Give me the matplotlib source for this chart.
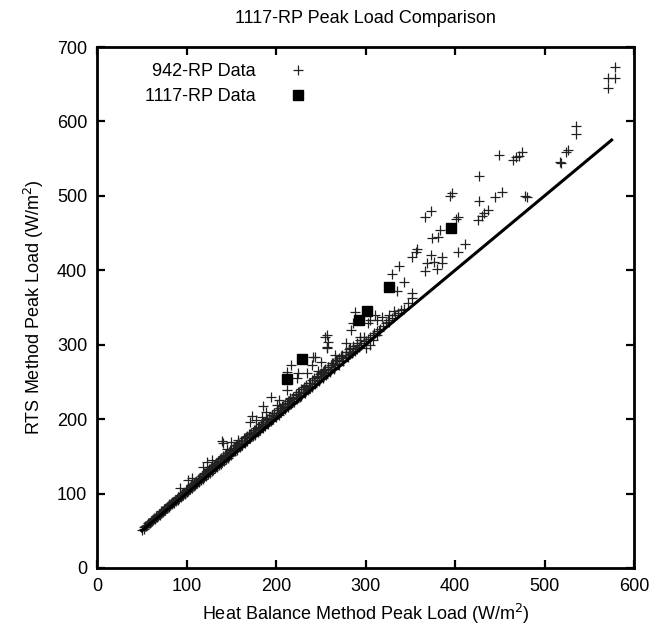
import matplotlib
matplotlib.use("Agg")
import matplotlib.pyplot as plt

plt.rcParams['font.family'] = ['Liberation Sans', 'DejaVu Sans']

# 942-RP data: sparse outliers
rp942_x_sparse = [578.3, 570.5, 579.1, 571.0, 534.7, 534.7, 525.8, 524.3, 518.0, 516.9,
                  474.8, 471.0, 468.4, 464.8, 448.7, 452.5, 478.5, 480.4, 445.0, 427.1,
                  396.6, 393.9, 427.1, 436.4, 432.7, 430.1, 425.2, 373.1, 366.7, 403.3,
                  401.4, 382.7, 380.5, 374.2, 411.4, 402.8, 358.1, 352.5, 373.1, 385.4,
                  376.8, 368.6, 385.4, 379.8, 366.7, 336.9, 329.5, 356.6, 343.2, 335.1,
                  351.8, 351.8, 348.0, 343.2, 332.0, 325.7, 318.3, 310.8, 324.6, 312.7,
                  305.2, 288.4, 286.5, 303.3, 283.6, 293.3, 315.6, 312.7, 308.2, 305.2,
                  300.7, 257.5, 254.9, 258.6, 256.8, 278.0, 282.9, 266.1, 241.8, 256.8,
                  243.7, 250.1, 216.9, 212.8, 225.1, 234.4, 223.3, 247.4, 240.0, 194.2,
                  212.1, 203.8, 185.9, 200.9, 215.8, 227.0, 238.1, 188.9, 173.0, 171.1,
                  177.8, 184.1, 139.4, 141.2, 149.5, 145.7, 158.0, 128.2, 122.6, 118.8,
                  105.9, 102.0, 92.8]
rp942_y_sparse = [673.5, 658.8, 658.8, 644.5, 594.3, 583.1, 561.6, 559.3, 543.8, 546.0,
                  559.3, 553.6, 551.8, 548.2, 554.9, 504.8, 500.2, 498.9, 498.1, 526.7,
                  504.3, 499.8, 493.1, 481.0, 476.6, 473.4, 467.6, 480.1, 471.2, 472.0,
                  468.5, 454.1, 445.1, 443.8, 434.9, 424.2, 428.2, 418.3, 420.5, 417.5,
                  411.5, 409.4, 409.4, 401.3, 399.5, 406.2, 395.0, 425.0, 384.7, 372.6,
                  369.9, 362.4, 355.6, 347.6, 345.7, 339.9, 336.8, 339.9, 333.2, 333.2,
                  333.2, 344.4, 329.6, 328.8, 319.8, 310.0, 318.8, 313.1, 306.3, 299.6,
                  295.2, 313.1, 310.0, 304.1, 295.2, 301.9, 295.2, 286.2, 283.9, 297.3,
                  283.1, 277.2, 272.7, 263.8, 262.4, 261.6, 254.9, 265.1, 272.7, 230.2,
                  239.2, 225.7, 218.1, 219.0, 228.0, 230.2, 241.4, 210.0, 204.2, 196.6,
                  198.9, 202.5, 171.0, 167.5, 169.7, 159.5, 172.0, 145.1, 142.8, 136.1,
                  120.5, 118.0, 107.0]

# 942-RP data: dense band close to the diagonal
rp942_x_band = [50, 52, 53, 55, 56, 58, 59, 60, 61, 62, 63, 64, 65, 66, 67, 68, 69, 70, 71, 72,
                73, 74, 75, 76, 77, 78, 79, 80, 81, 82, 83, 84, 85, 86, 87, 88, 89, 90, 91, 92,
                93, 94, 95, 96, 97, 98, 99, 100, 101, 102, 103, 104, 105, 106, 107, 108, 109, 110,
                111, 112, 113, 114, 115, 116, 117, 118, 119, 120, 121, 122, 123, 124, 125, 126,
                127, 128, 129, 130, 131, 132, 133, 134, 135, 136, 137, 138, 139, 140, 141, 142,
                143, 144, 145, 146, 147, 148, 149, 150, 152, 154, 155, 156, 158, 160, 161, 162,
                164, 165, 166, 168, 170, 171, 172, 174, 175, 176, 178, 180, 181, 182, 184, 185,
                186, 188, 190, 191, 192, 194, 196, 197, 198, 200, 202, 203, 205, 206, 208, 210,
                212, 213, 215, 217, 219, 220, 222, 224, 226, 228, 230, 232, 234, 236, 238, 240,
                242, 244, 246, 248, 250, 252, 254, 256, 258, 260, 263, 265, 268, 270, 273, 275,
                278, 280, 283, 285, 288, 290, 293, 295, 298, 300, 303, 305, 308, 310, 313, 316,
                320, 323, 326, 330, 333, 336, 340]
rp942_y_band = [51, 53, 55, 56, 58, 60, 61, 62, 64, 63, 65, 67, 66, 69, 69, 70, 72, 71, 74, 74,
                76, 75, 78, 78, 80, 80, 83, 82, 84, 84, 87, 86, 89, 88, 91, 90, 93, 92, 95, 94,
                97, 96, 100, 98, 101, 100, 104, 102, 106, 104, 108, 106, 110, 108, 112, 110, 115, 112,
                116, 114, 119, 116, 121, 118, 123, 120, 126, 122, 128, 124, 130, 126, 133, 128,
                134, 130, 137, 132, 139, 134, 141, 136, 144, 138, 146, 140, 148, 142, 150, 144,
                152, 146, 155, 148, 156, 150, 159, 152, 160, 157, 165, 159, 168, 163, 170, 165,
                174, 168, 176, 171, 180, 174, 182, 177, 186, 179, 188, 183, 190, 185, 194, 188,
                196, 191, 200, 194, 202, 197, 206, 200, 208, 203, 212, 206, 215, 209, 218, 213,
                222, 216, 225, 220, 229, 223, 232, 227, 236, 231, 240, 235, 245, 239, 248, 243,
                252, 247, 256, 251, 262, 255, 266, 259, 270, 263, 275, 268, 280, 273, 285, 278,
                290, 283, 288, 289, 292, 294, 297, 300, 302, 305, 308, 310, 313, 316, 318, 321,
                325, 329, 331, 336, 340, 343, 347]

rp942_x_band2 = [54, 57, 60, 63, 66, 69, 72, 75, 78, 81, 84, 87, 90, 93, 96, 99, 102, 105, 108,
                 111, 114, 117, 120, 123, 126, 129, 132, 135, 138, 141, 144, 147, 150,
                 153, 156, 159, 162, 165, 168, 171, 174, 177, 180, 183, 186, 189, 192, 195, 198,
                 201, 204, 207, 210, 213, 216, 219, 222, 225, 228, 231, 234, 237, 240, 243, 246,
                 249, 252, 255, 258, 261, 264, 267, 270,
                 274, 278, 282, 286, 290, 294, 298]
rp942_y_band2 = [57, 60, 63, 66, 70, 73, 76, 79, 82, 86, 89, 92, 95, 98, 101, 105, 108, 111, 114,
                 117, 120, 124, 127, 130, 133, 136, 139, 143, 146, 149, 152, 155, 158,
                 161, 164, 167, 171, 174, 177, 180, 183, 186, 190, 193, 196, 199, 202, 205, 208,
                 212, 215, 218, 221, 224, 227, 230, 234, 237, 240, 243, 246, 249, 252, 255, 258,
                 261, 264, 267, 270, 273, 276, 279, 282,
                 286, 290, 294, 298, 302, 306, 310]

rp942_x_band3 = [70, 74, 78, 82, 86, 90, 94, 98, 102, 106, 110, 114, 118, 122, 126, 130, 134,
                 138, 142, 146, 150, 154, 158, 162, 166, 170, 174, 178, 182, 186, 190, 194, 198,
                 202, 206, 210, 214, 218, 222, 226, 230, 234, 238, 242, 246, 250, 254, 258, 262,
                 266, 270, 274, 278, 282, 286, 290]
rp942_y_band3 = [72, 76, 80, 85, 89, 93, 97, 101, 105, 109, 113, 118, 122, 126, 130, 134, 138,
                 142, 146, 150, 155, 159, 163, 167, 171, 175, 179, 183, 187, 192, 196, 200, 204,
                 208, 212, 216, 220, 225, 229, 233, 237, 241, 245, 249, 253, 258, 262, 266, 270,
                 274, 278, 282, 286, 290, 295, 299]

# 1117-RP data
rp1117_x = [212.0, 229.6, 293.0, 301.7, 326.6, 396.0]
rp1117_y = [254.0, 281.0, 333.0, 345.0, 378.0, 456.6]

# reference line (equal loads)
line_x = [50, 575]
line_y = [50, 575]

fig = plt.figure(figsize=(6.67, 6.32), dpi=100)
ax = fig.add_axes([97/667, 64/632, (634-97)/667, (568-47)/632])

x942 = rp942_x_band + rp942_x_band2 + rp942_x_band3 + rp942_x_sparse
y942 = rp942_y_band + rp942_y_band2 + rp942_y_band3 + rp942_y_sparse
ax.plot(x942, y942, linestyle='none',
        marker='+', markersize=6.5, markeredgewidth=0.9, color='#222222', label='942-RP Data')
ax.plot(rp1117_x, rp1117_y, linestyle='none', marker='s', markersize=7.5,
        color='black', label='1117-RP Data')
ax.plot(line_x, line_y, color='black', linewidth=2.2)

ax.set_xlim(0, 600)
ax.set_ylim(0, 700)
ax.set_xticks(range(0, 601, 100))
ax.set_yticks(range(0, 701, 100))
ax.tick_params(direction='in', length=6, width=1.6, top=True, right=True,
               labelsize=13, pad=7)
for s in ax.spines.values():
    s.set_linewidth(2)

ax.set_xlabel('Heat Balance Method Peak Load (W/m$^2$)', fontsize=13, labelpad=5)
ax.set_ylabel('RTS Method Peak Load (W/m$^2$)', fontsize=13, labelpad=8)
ax.set_title('1117-RP Peak Load Comparison', fontsize=13, pad=17)

ax.legend(loc='upper left', bbox_to_anchor=(0.06, 1.0), frameon=False, markerfirst=False,
          fontsize=13, handlelength=1.0, handletextpad=1.8, labelspacing=0.45,
          alignment='right')

fig.savefig('out.png', dpi=100)
